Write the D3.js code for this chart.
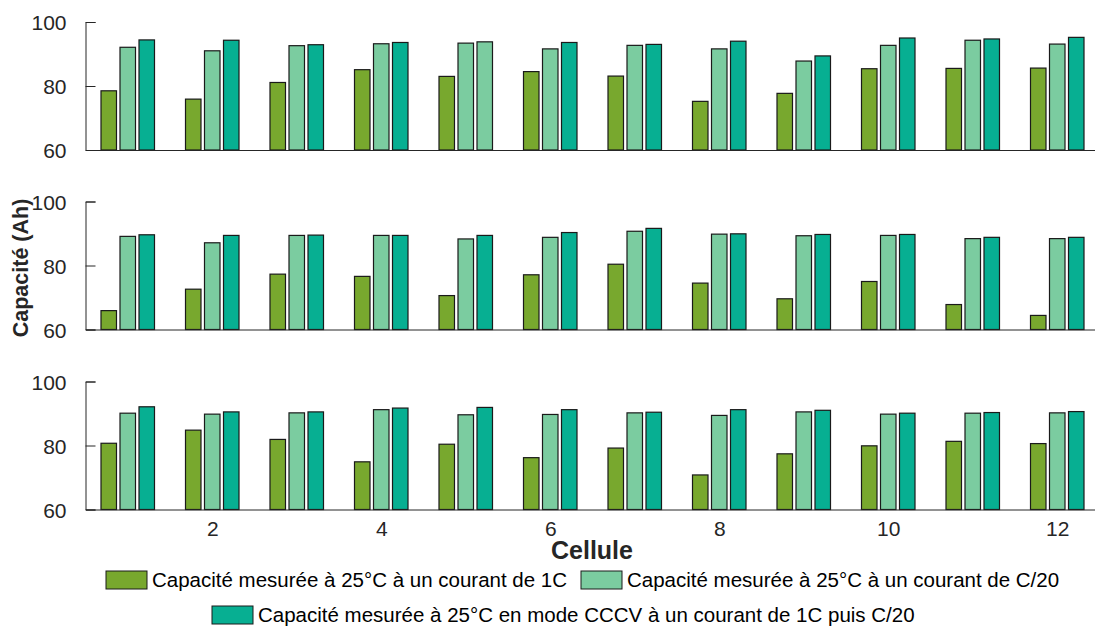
<!DOCTYPE html>
<html>
<head>
<meta charset="utf-8">
<script src="https://cdn.jsdelivr.net/npm/d3@7"></script>
<style>
  body { margin: 0; background: #fff; }
  svg { display: block; font-family: "Liberation Sans", Arial, sans-serif; }
</style>
</head>
<body>
<div id="container"></div>
<script>
/* Data */
var cells = [1, 2, 3, 4, 5, 6, 7, 8, 9, 10, 11, 12];
var xTicks = [2, 4, 6, 8, 10, 12];
var yTicks = [60, 80, 100];

// panel 1
var p1_1C   = [78.5, 75.9, 81.1, 85.1, 83.0, 84.5, 83.1, 75.2, 77.7, 85.4, 85.5, 85.6];
var p1_C20  = [92.1, 91.0, 92.6, 93.2, 93.4, 91.6, 92.7, 91.6, 87.8, 92.7, 94.3, 93.1];
var p1_CCCV = [94.4, 94.3, 92.9, 93.6, 93.8, 93.6, 93.0, 94.0, 89.4, 95.0, 94.7, 95.2];
// panel 2
var p2_1C   = [65.9, 72.6, 77.3, 76.6, 70.6, 77.1, 80.4, 74.5, 69.6, 75.0, 67.8, 64.4];
var p2_C20  = [89.1, 87.1, 89.4, 89.4, 88.3, 88.8, 90.7, 89.8, 89.3, 89.4, 88.4, 88.4];
var p2_CCCV = [89.6, 89.4, 89.5, 89.4, 89.4, 90.3, 91.6, 89.9, 89.7, 89.7, 88.8, 88.8];
// panel 3
var p3_1C   = [80.7, 84.8, 81.9, 74.9, 80.4, 76.2, 79.2, 70.8, 77.4, 79.9, 81.3, 80.6];
var p3_C20  = [90.1, 89.8, 90.2, 91.2, 89.6, 89.7, 90.2, 89.4, 90.5, 89.8, 90.1, 90.2];
var p3_CCCV = [92.1, 90.5, 90.5, 91.7, 91.9, 91.2, 90.4, 91.2, 91.0, 90.1, 90.3, 90.6];

var seriesNames = [
  "Capacité mesurée à 25°C à un courant de 1C",
  "Capacité mesurée à 25°C à un courant de C/20",
  "Capacité mesurée à 25°C en mode CCCV à un courant de 1C puis C/20"
];
var colors = ["#78a82e", "#7bcca0", "#07af92"];

var panels = [
  [p1_1C, p1_C20, p1_CCCV],
  [p2_1C, p2_C20, p2_CCCV],
  [p3_1C, p3_C20, p3_CCCV]
];

/* Layout */
var W = 1095, H = 626;
var panelTop = [22, 201.5, 381.5],
    panelH = 128;
var barW = 15.5, barStep = 19;

var svg = d3.select('#container').append('svg')
  .attr('width', W)
  .attr('height', H);

var xScale = d3.scaleLinear()
  .domain([0.5, 12.5])
  .range([85.5, 85.5 + 12 * 84.5]);

panels.forEach(function(series, pi) {
  var yScale = d3.scaleLinear()
    .domain([60, 100])
    .range([panelTop[pi] + panelH, panelTop[pi]]);

  var g = svg.append('g').classed('panel', true);

  // bars
  series.forEach(function(vals, si) {
    g.selectAll('.bar-' + si)
      .data(vals)
      .enter().append('rect')
      .attr('class', 'bar-' + si)
      .attr('x', (d, i) => xScale(cells[i]) + (si - 1) * barStep - barW / 2)
      .attr('y', d => yScale(d))
      .attr('width', barW)
      .attr('height', d => yScale(60) - yScale(d))
      // the original colours cell 5's CCCV bar of the first panel like the C/20 one
      .attr('fill', (d, i) => (pi === 0 && si === 2 && cells[i] === 5) ? colors[1] : colors[si])
      .attr('stroke', '#1a1a1a')
      .attr('stroke-width', 1.2);
  });

  // y axis
  var yAxis = d3.axisLeft(yScale).tickValues(yTicks).tickSize(-10).tickPadding(19);
  var ya = g.append('g')
    .attr('transform', 'translate(' + xScale(0.5) + ',0)')
    .call(yAxis);
  ya.select('.domain').attr('stroke', '#262626');
  ya.selectAll('.tick line').attr('stroke', '#262626');
  ya.selectAll('text')
    .attr('fill', '#262626')
    .style('font-size', '21px')
    .attr('dy', '0.36em');

  // x axis
  var xAxis = d3.axisBottom(xScale).tickValues(pi === 2 ? xTicks : []).tickSize(0).tickPadding(12);
  var xa = g.append('g')
    .attr('transform', 'translate(0,' + yScale(60) + ')')
    .call(xAxis);
  xa.select('.domain').attr('stroke', '#262626');
  xa.selectAll('text')
    .attr('fill', '#262626')
    .style('font-size', '21px');
});

/* Axis titles */
svg.append('text')
  .attr('transform', 'translate(28,268) rotate(-90)')
  .attr('text-anchor', 'middle')
  .attr('fill', '#262626')
  .style('font-size', '21.5px')
  .style('font-weight', 'bold')
  .text('Capacité (Ah)');

svg.append('text')
  .attr('x', 592)
  .attr('y', 559)
  .attr('text-anchor', 'middle')
  .attr('fill', '#262626')
  .style('font-size', '25px')
  .style('font-weight', 'bold')
  .text('Cellule');

/* Legend */
var legendPos = [[106, 571], [581, 571], [212, 606]];
var legend = svg.append('g').classed('legend', true);
seriesNames.forEach(function(name, si) {
  var item = legend.append('g')
    .attr('transform', 'translate(' + legendPos[si][0] + ',' + legendPos[si][1] + ')');
  item.append('rect')
    .attr('width', 41)
    .attr('height', 18)
    .attr('fill', colors[si])
    .attr('stroke', '#1a1a1a')
    .attr('stroke-width', 1);
  item.append('text')
    .attr('x', 46)
    .attr('y', 9)
    .attr('dy', '0.35em')
    .attr('fill', '#000')
    .style('font-size', '20.5px')
    .text(name);
});
</script>
</body>
</html>
